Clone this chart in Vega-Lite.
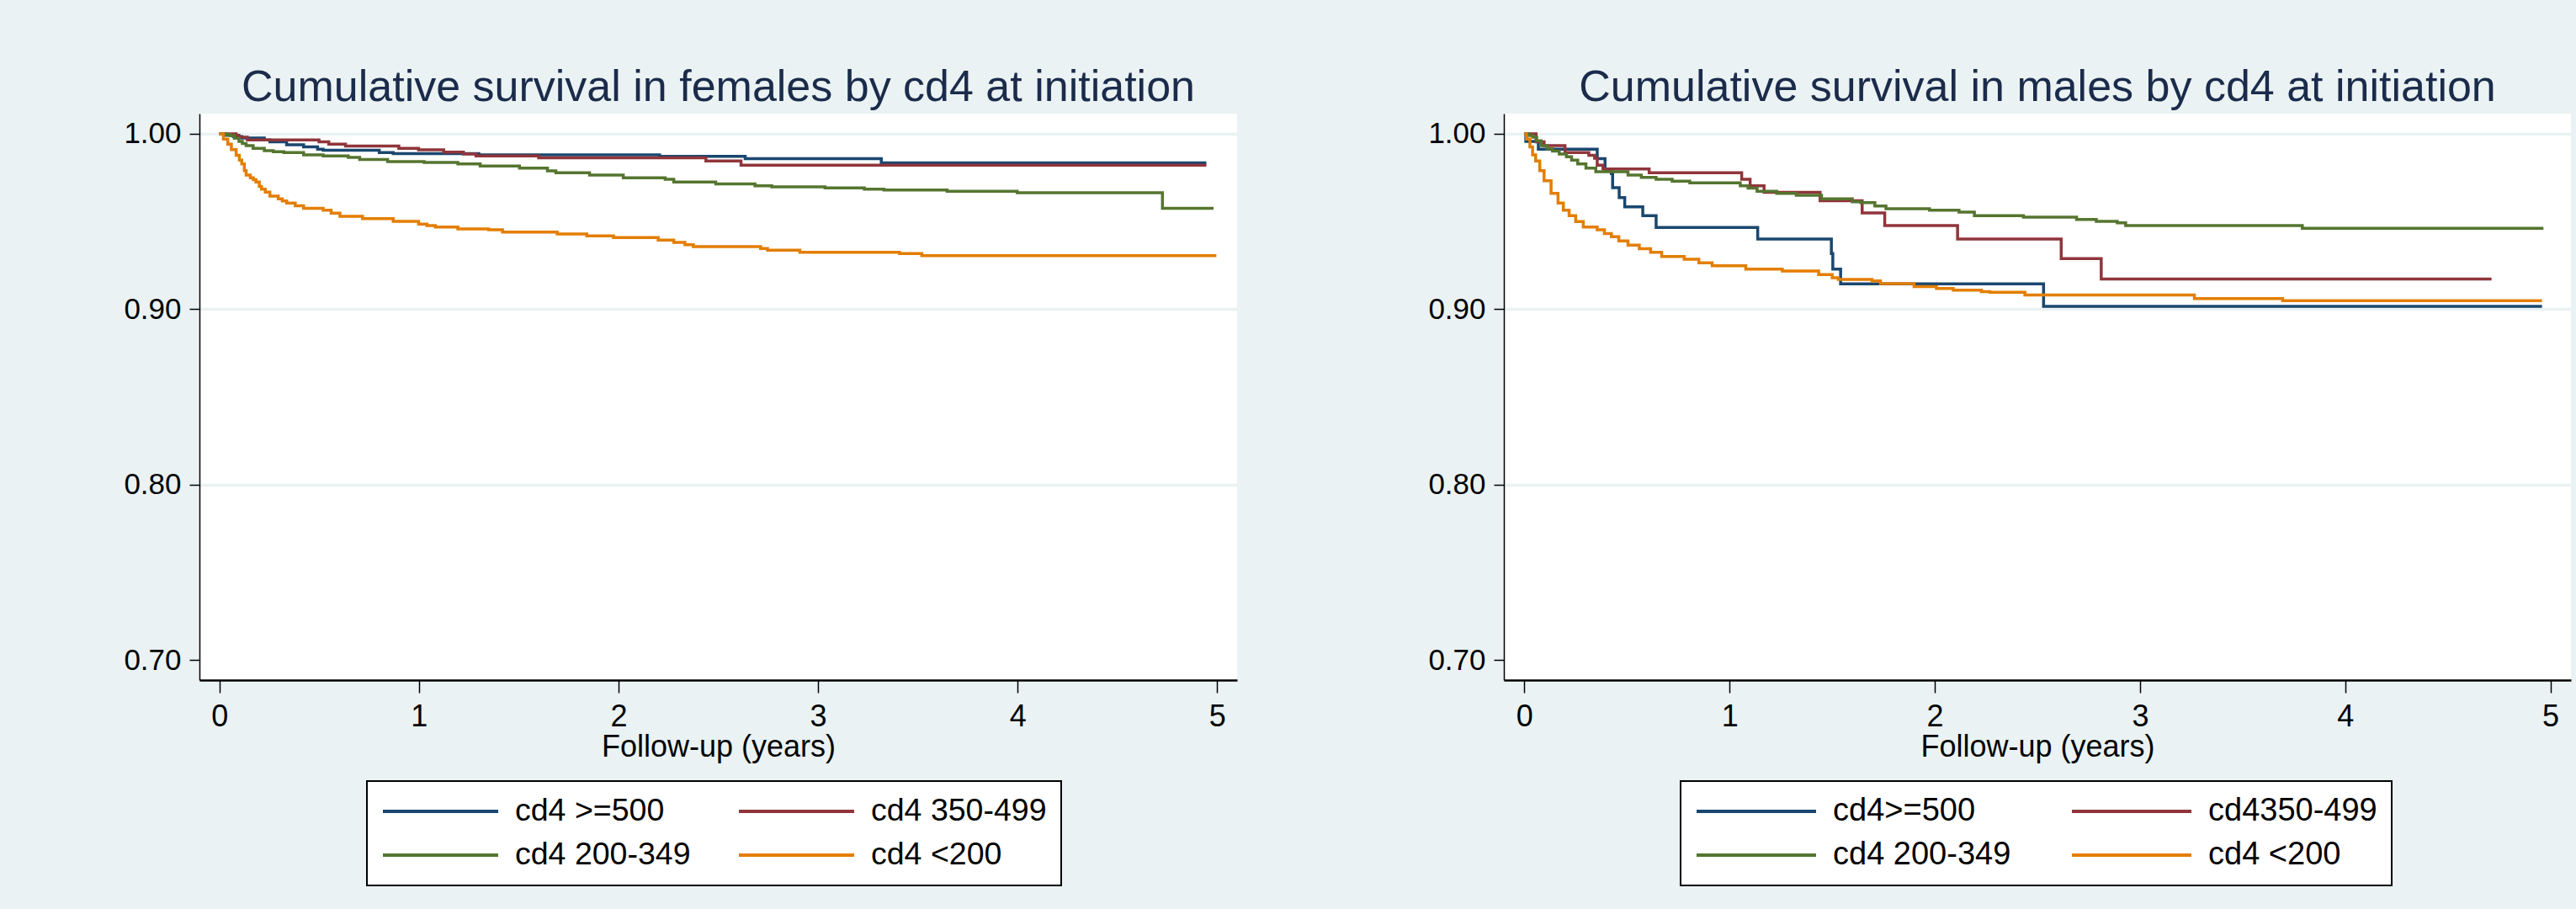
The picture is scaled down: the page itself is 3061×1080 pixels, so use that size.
{
  "$schema": "https://vega.github.io/schema/vega-lite/v6.json",
  "background": "#EAF2F3",
  "padding": {"left": 146, "top": 78, "right": 10, "bottom": 29},
  "spacing": 226,
  "resolve": {"scale": {"color": "independent"}},
  "config": {
    "font": "Liberation Sans",
    "view": {"fill": "white", "stroke": null},
    "title": {"fontSize": 52, "fontWeight": "normal", "color": "#1B2B4B", "anchor": "middle", "baseline": "alphabetic", "offset": 4, "font": "Liberation Sans"},
    "axis": {"labelFont": "Liberation Sans", "titleFont": "Liberation Sans", "labelColor": "black", "titleColor": "black", "tickColor": "black", "domainColor": "black", "titleFontWeight": "normal"},
    "legend": {"strokeWidth": 2, "labelFont": "Liberation Sans"}
  },
  "datasets": {
    "female": [
      {"g": "cd4 >=500", "t": 0, "s": 1},
      {"g": "cd4 >=500", "t": 0.03, "s": 0.9992},
      {"g": "cd4 >=500", "t": 0.07, "s": 0.9984},
      {"g": "cd4 >=500", "t": 0.112, "s": 0.9976},
      {"g": "cd4 >=500", "t": 0.225, "s": 0.9965},
      {"g": "cd4 >=500", "t": 0.253, "s": 0.9954},
      {"g": "cd4 >=500", "t": 0.337, "s": 0.9938},
      {"g": "cd4 >=500", "t": 0.422, "s": 0.9925},
      {"g": "cd4 >=500", "t": 0.492, "s": 0.9912},
      {"g": "cd4 >=500", "t": 0.52, "s": 0.9906},
      {"g": "cd4 >=500", "t": 0.801, "s": 0.9893},
      {"g": "cd4 >=500", "t": 0.871, "s": 0.9887},
      {"g": "cd4 >=500", "t": 1.3, "s": 0.988},
      {"g": "cd4 >=500", "t": 2.206, "s": 0.9872},
      {"g": "cd4 >=500", "t": 2.635, "s": 0.9858},
      {"g": "cd4 >=500", "t": 3.317, "s": 0.9834},
      {"g": "cd4 >=500", "t": 4.946, "s": 0.9834},
      {"g": "cd4 350-499", "t": 0, "s": 1},
      {"g": "cd4 350-499", "t": 0.084, "s": 0.9992},
      {"g": "cd4 350-499", "t": 0.098, "s": 0.9981},
      {"g": "cd4 350-499", "t": 0.14, "s": 0.9965},
      {"g": "cd4 350-499", "t": 0.499, "s": 0.9954},
      {"g": "cd4 350-499", "t": 0.548, "s": 0.9941},
      {"g": "cd4 350-499", "t": 0.632, "s": 0.993},
      {"g": "cd4 350-499", "t": 0.899, "s": 0.9917},
      {"g": "cd4 350-499", "t": 0.998, "s": 0.9909},
      {"g": "cd4 350-499", "t": 1.124, "s": 0.9896},
      {"g": "cd4 350-499", "t": 1.223, "s": 0.9885},
      {"g": "cd4 350-499", "t": 1.286, "s": 0.9874},
      {"g": "cd4 350-499", "t": 1.6, "s": 0.9863},
      {"g": "cd4 350-499", "t": 2.438, "s": 0.9845},
      {"g": "cd4 350-499", "t": 2.614, "s": 0.9821},
      {"g": "cd4 350-499", "t": 4.946, "s": 0.9821},
      {"g": "cd4 200-349", "t": 0, "s": 1},
      {"g": "cd4 200-349", "t": 0.03, "s": 0.9995},
      {"g": "cd4 200-349", "t": 0.056, "s": 0.9989},
      {"g": "cd4 200-349", "t": 0.075, "s": 0.9975},
      {"g": "cd4 200-349", "t": 0.098, "s": 0.9957},
      {"g": "cd4 200-349", "t": 0.115, "s": 0.9945},
      {"g": "cd4 200-349", "t": 0.134, "s": 0.9933},
      {"g": "cd4 200-349", "t": 0.169, "s": 0.9917},
      {"g": "cd4 200-349", "t": 0.225, "s": 0.9904},
      {"g": "cd4 200-349", "t": 0.27, "s": 0.9898},
      {"g": "cd4 200-349", "t": 0.323, "s": 0.9893},
      {"g": "cd4 200-349", "t": 0.422, "s": 0.988},
      {"g": "cd4 200-349", "t": 0.52, "s": 0.9874},
      {"g": "cd4 200-349", "t": 0.646, "s": 0.9866},
      {"g": "cd4 200-349", "t": 0.703, "s": 0.9853},
      {"g": "cd4 200-349", "t": 0.843, "s": 0.9842},
      {"g": "cd4 200-349", "t": 1.026, "s": 0.9837},
      {"g": "cd4 200-349", "t": 1.195, "s": 0.9829},
      {"g": "cd4 200-349", "t": 1.307, "s": 0.9816},
      {"g": "cd4 200-349", "t": 1.504, "s": 0.9805},
      {"g": "cd4 200-349", "t": 1.644, "s": 0.9789},
      {"g": "cd4 200-349", "t": 1.686, "s": 0.9778},
      {"g": "cd4 200-349", "t": 1.855, "s": 0.9765},
      {"g": "cd4 200-349", "t": 2.024, "s": 0.9749},
      {"g": "cd4 200-349", "t": 2.234, "s": 0.9741},
      {"g": "cd4 200-349", "t": 2.277, "s": 0.9725},
      {"g": "cd4 200-349", "t": 2.487, "s": 0.9714},
      {"g": "cd4 200-349", "t": 2.684, "s": 0.9704},
      {"g": "cd4 200-349", "t": 2.768, "s": 0.9698},
      {"g": "cd4 200-349", "t": 3.035, "s": 0.9692},
      {"g": "cd4 200-349", "t": 3.232, "s": 0.9685},
      {"g": "cd4 200-349", "t": 3.33, "s": 0.968},
      {"g": "cd4 200-349", "t": 3.647, "s": 0.9672},
      {"g": "cd4 200-349", "t": 3.998, "s": 0.9664},
      {"g": "cd4 200-349", "t": 4.726, "s": 0.9576},
      {"g": "cd4 200-349", "t": 4.982, "s": 0.9576},
      {"g": "cd4 <200", "t": 0, "s": 1},
      {"g": "cd4 <200", "t": 0.02, "s": 0.997},
      {"g": "cd4 <200", "t": 0.042, "s": 0.9941},
      {"g": "cd4 <200", "t": 0.06, "s": 0.991},
      {"g": "cd4 <200", "t": 0.084, "s": 0.9877},
      {"g": "cd4 <200", "t": 0.1, "s": 0.985},
      {"g": "cd4 <200", "t": 0.112, "s": 0.9829},
      {"g": "cd4 <200", "t": 0.125, "s": 0.979},
      {"g": "cd4 <200", "t": 0.134, "s": 0.9765},
      {"g": "cd4 <200", "t": 0.155, "s": 0.9749},
      {"g": "cd4 <200", "t": 0.17, "s": 0.9738},
      {"g": "cd4 <200", "t": 0.183, "s": 0.9725},
      {"g": "cd4 <200", "t": 0.2, "s": 0.97},
      {"g": "cd4 <200", "t": 0.211, "s": 0.9685},
      {"g": "cd4 <200", "t": 0.23, "s": 0.9668},
      {"g": "cd4 <200", "t": 0.253, "s": 0.9645},
      {"g": "cd4 <200", "t": 0.295, "s": 0.9629},
      {"g": "cd4 <200", "t": 0.315, "s": 0.9617},
      {"g": "cd4 <200", "t": 0.337, "s": 0.9605},
      {"g": "cd4 <200", "t": 0.38, "s": 0.959},
      {"g": "cd4 <200", "t": 0.422, "s": 0.9576},
      {"g": "cd4 <200", "t": 0.52, "s": 0.9565},
      {"g": "cd4 <200", "t": 0.56, "s": 0.9548},
      {"g": "cd4 <200", "t": 0.604, "s": 0.953},
      {"g": "cd4 <200", "t": 0.717, "s": 0.9517},
      {"g": "cd4 <200", "t": 0.871, "s": 0.9501},
      {"g": "cd4 <200", "t": 0.998, "s": 0.9485},
      {"g": "cd4 <200", "t": 1.04, "s": 0.9477},
      {"g": "cd4 <200", "t": 1.082, "s": 0.9469},
      {"g": "cd4 <200", "t": 1.195, "s": 0.9458},
      {"g": "cd4 <200", "t": 1.349, "s": 0.9453},
      {"g": "cd4 <200", "t": 1.419, "s": 0.944},
      {"g": "cd4 <200", "t": 1.693, "s": 0.9429},
      {"g": "cd4 <200", "t": 1.841, "s": 0.9418},
      {"g": "cd4 <200", "t": 1.975, "s": 0.9409},
      {"g": "cd4 <200", "t": 2.199, "s": 0.9394},
      {"g": "cd4 <200", "t": 2.277, "s": 0.9381},
      {"g": "cd4 <200", "t": 2.333, "s": 0.9368},
      {"g": "cd4 <200", "t": 2.375, "s": 0.9357},
      {"g": "cd4 <200", "t": 2.712, "s": 0.9346},
      {"g": "cd4 <200", "t": 2.747, "s": 0.9337},
      {"g": "cd4 <200", "t": 2.909, "s": 0.9325},
      {"g": "cd4 <200", "t": 3.408, "s": 0.9317},
      {"g": "cd4 <200", "t": 3.52, "s": 0.9306},
      {"g": "cd4 <200", "t": 4.996, "s": 0.9306}
    ],
    "male": [
      {"g": "cd4>=500", "t": 0, "s": 1},
      {"g": "cd4>=500", "t": 0.007, "s": 0.9957},
      {"g": "cd4>=500", "t": 0.068, "s": 0.9912},
      {"g": "cd4>=500", "t": 0.355, "s": 0.9858},
      {"g": "cd4>=500", "t": 0.393, "s": 0.9797},
      {"g": "cd4>=500", "t": 0.424, "s": 0.9773},
      {"g": "cd4>=500", "t": 0.43, "s": 0.9693},
      {"g": "cd4>=500", "t": 0.462, "s": 0.9637},
      {"g": "cd4>=500", "t": 0.489, "s": 0.9584},
      {"g": "cd4>=500", "t": 0.577, "s": 0.9533},
      {"g": "cd4>=500", "t": 0.642, "s": 0.9466},
      {"g": "cd4>=500", "t": 1.137, "s": 0.94},
      {"g": "cd4>=500", "t": 1.496, "s": 0.9317},
      {"g": "cd4>=500", "t": 1.503, "s": 0.9229},
      {"g": "cd4>=500", "t": 1.541, "s": 0.9145},
      {"g": "cd4>=500", "t": 2.53, "s": 0.9017},
      {"g": "cd4>=500", "t": 4.959, "s": 0.9017},
      {"g": "cd4350-499", "t": 0, "s": 1},
      {"g": "cd4350-499", "t": 0.057, "s": 0.9954},
      {"g": "cd4350-499", "t": 0.096, "s": 0.9933},
      {"g": "cd4350-499", "t": 0.198, "s": 0.9893},
      {"g": "cd4350-499", "t": 0.314, "s": 0.9877},
      {"g": "cd4350-499", "t": 0.342, "s": 0.9861},
      {"g": "cd4350-499", "t": 0.355, "s": 0.9821},
      {"g": "cd4350-499", "t": 0.383, "s": 0.98},
      {"g": "cd4350-499", "t": 0.608, "s": 0.9778},
      {"g": "cd4350-499", "t": 1.059, "s": 0.9741},
      {"g": "cd4350-499", "t": 1.1, "s": 0.9704},
      {"g": "cd4350-499", "t": 1.168, "s": 0.9666},
      {"g": "cd4350-499", "t": 1.441, "s": 0.9618},
      {"g": "cd4350-499", "t": 1.646, "s": 0.9549},
      {"g": "cd4350-499", "t": 1.756, "s": 0.9477},
      {"g": "cd4350-499", "t": 2.111, "s": 0.94},
      {"g": "cd4350-499", "t": 2.616, "s": 0.9289},
      {"g": "cd4350-499", "t": 2.811, "s": 0.9173},
      {"g": "cd4350-499", "t": 4.713, "s": 0.9173},
      {"g": "cd4 200-349", "t": 0, "s": 1},
      {"g": "cd4 200-349", "t": 0.02, "s": 0.999},
      {"g": "cd4 200-349", "t": 0.041, "s": 0.9981},
      {"g": "cd4 200-349", "t": 0.06, "s": 0.996},
      {"g": "cd4 200-349", "t": 0.082, "s": 0.9933},
      {"g": "cd4 200-349", "t": 0.11, "s": 0.9915},
      {"g": "cd4 200-349", "t": 0.137, "s": 0.9901},
      {"g": "cd4 200-349", "t": 0.17, "s": 0.9885},
      {"g": "cd4 200-349", "t": 0.205, "s": 0.9869},
      {"g": "cd4 200-349", "t": 0.23, "s": 0.985},
      {"g": "cd4 200-349", "t": 0.26, "s": 0.9829},
      {"g": "cd4 200-349", "t": 0.3, "s": 0.9805},
      {"g": "cd4 200-349", "t": 0.348, "s": 0.9784},
      {"g": "cd4 200-349", "t": 0.505, "s": 0.9765},
      {"g": "cd4 200-349", "t": 0.57, "s": 0.9752},
      {"g": "cd4 200-349", "t": 0.642, "s": 0.9741},
      {"g": "cd4 200-349", "t": 0.72, "s": 0.973},
      {"g": "cd4 200-349", "t": 0.806, "s": 0.972},
      {"g": "cd4 200-349", "t": 1.052, "s": 0.9704},
      {"g": "cd4 200-349", "t": 1.09, "s": 0.969},
      {"g": "cd4 200-349", "t": 1.134, "s": 0.9672},
      {"g": "cd4 200-349", "t": 1.23, "s": 0.966},
      {"g": "cd4 200-349", "t": 1.325, "s": 0.965},
      {"g": "cd4 200-349", "t": 1.448, "s": 0.9629},
      {"g": "cd4 200-349", "t": 1.598, "s": 0.9613},
      {"g": "cd4 200-349", "t": 1.639, "s": 0.9608},
      {"g": "cd4 200-349", "t": 1.708, "s": 0.9589},
      {"g": "cd4 200-349", "t": 1.762, "s": 0.9573},
      {"g": "cd4 200-349", "t": 1.974, "s": 0.9565},
      {"g": "cd4 200-349", "t": 2.118, "s": 0.9554},
      {"g": "cd4 200-349", "t": 2.193, "s": 0.9533},
      {"g": "cd4 200-349", "t": 2.432, "s": 0.9525},
      {"g": "cd4 200-349", "t": 2.691, "s": 0.9512},
      {"g": "cd4 200-349", "t": 2.787, "s": 0.9501},
      {"g": "cd4 200-349", "t": 2.889, "s": 0.9493},
      {"g": "cd4 200-349", "t": 2.93, "s": 0.9477},
      {"g": "cd4 200-349", "t": 3.791, "s": 0.9461},
      {"g": "cd4 200-349", "t": 4.966, "s": 0.9461},
      {"g": "cd4 <200", "t": 0, "s": 1},
      {"g": "cd4 <200", "t": 0.01, "s": 0.997},
      {"g": "cd4 <200", "t": 0.027, "s": 0.9925},
      {"g": "cd4 <200", "t": 0.04, "s": 0.988},
      {"g": "cd4 <200", "t": 0.055, "s": 0.9845},
      {"g": "cd4 <200", "t": 0.075, "s": 0.979},
      {"g": "cd4 <200", "t": 0.096, "s": 0.9733},
      {"g": "cd4 <200", "t": 0.13, "s": 0.966},
      {"g": "cd4 <200", "t": 0.164, "s": 0.9605},
      {"g": "cd4 <200", "t": 0.19, "s": 0.9565},
      {"g": "cd4 <200", "t": 0.218, "s": 0.9533},
      {"g": "cd4 <200", "t": 0.25, "s": 0.95},
      {"g": "cd4 <200", "t": 0.287, "s": 0.9469},
      {"g": "cd4 <200", "t": 0.355, "s": 0.9453},
      {"g": "cd4 <200", "t": 0.39, "s": 0.9432},
      {"g": "cd4 <200", "t": 0.424, "s": 0.9413},
      {"g": "cd4 <200", "t": 0.46, "s": 0.939},
      {"g": "cd4 <200", "t": 0.505, "s": 0.9365},
      {"g": "cd4 <200", "t": 0.56, "s": 0.9345},
      {"g": "cd4 <200", "t": 0.615, "s": 0.9325},
      {"g": "cd4 <200", "t": 0.669, "s": 0.9301},
      {"g": "cd4 <200", "t": 0.779, "s": 0.9285},
      {"g": "cd4 <200", "t": 0.85, "s": 0.9265},
      {"g": "cd4 <200", "t": 0.915, "s": 0.9248},
      {"g": "cd4 <200", "t": 1.079, "s": 0.9229},
      {"g": "cd4 <200", "t": 1.257, "s": 0.9218},
      {"g": "cd4 <200", "t": 1.434, "s": 0.9198},
      {"g": "cd4 <200", "t": 1.5, "s": 0.918},
      {"g": "cd4 <200", "t": 1.53, "s": 0.917},
      {"g": "cd4 <200", "t": 1.694, "s": 0.9162},
      {"g": "cd4 <200", "t": 1.735, "s": 0.9146},
      {"g": "cd4 <200", "t": 1.899, "s": 0.9129},
      {"g": "cd4 <200", "t": 2.008, "s": 0.9118},
      {"g": "cd4 <200", "t": 2.09, "s": 0.9109},
      {"g": "cd4 <200", "t": 2.227, "s": 0.9101},
      {"g": "cd4 <200", "t": 2.268, "s": 0.9097},
      {"g": "cd4 <200", "t": 2.439, "s": 0.9081},
      {"g": "cd4 <200", "t": 3.265, "s": 0.9061},
      {"g": "cd4 <200", "t": 3.695, "s": 0.9049},
      {"g": "cd4 <200", "t": 4.959, "s": 0.9049}
    ]
  },
  "hconcat": [
    {
      "title": {"text": "Cumulative survival in females by cd4 at initiation"},
      "width": 1233,
      "height": 673,
      "data": {"name": "female"},
      "mark": {"type": "line", "interpolate": "step-after", "strokeWidth": 3.5},
      "encoding": {
        "x": {"field": "t", "type": "quantitative", "scale": {"domain": [-0.1, 5.1], "nice": false, "zero": false},
          "axis": {"values": [0, 1, 2, 3, 4, 5], "title": "Follow-up (years)", "grid": false, "tickSize": 15, "tickWidth": 1.5, "domainWidth": 2.5, "labelFontSize": 36, "labelPadding": 11, "titleFontSize": 36, "titlePadding": 1, "labelFlush": false}},
        "y": {"field": "s", "type": "quantitative", "scale": {"domain": [0.6887, 1.0115], "nice": false, "zero": false},
          "axis": {"values": [0.7, 0.8, 0.9, 1.0], "format": ".2f", "title": null, "grid": true, "gridColor": "#EAF2F3", "gridWidth": 3.5, "gridOpacity": {"condition": {"test": "datum.value < 0.75", "value": 0}, "value": 1}, "tickSize": 12, "tickWidth": 1.5, "domainWidth": 1.5, "labelFontSize": 35, "labelPadding": 10, "labelFlush": false}},
        "color": {"field": "g", "type": "nominal",
          "scale": {"domain": ["cd4 >=500", "cd4 350-499", "cd4 200-349", "cd4 <200"], "range": ["#1A476F", "#90353B", "#55752F", "#E37E00"]},
          "legend": {"orient": "none", "legendX": 199, "legendY": 793, "direction": "horizontal", "columns": 2, "title": null, "symbolType": "stroke", "symbolSize": 18769, "symbolStrokeWidth": 4, "clipHeight": 38, "labelFontSize": 37.5, "labelColor": "black", "labelOffset": 18, "columnPadding": 55, "rowPadding": 14, "padding": 17, "strokeColor": "black", "fillColor": "white", "labelLimit": 500}}
      }
    },
    {
      "title": {"text": "Cumulative survival in males by cd4 at initiation"},
      "width": 1268,
      "height": 673,
      "data": {"name": "male"},
      "mark": {"type": "line", "interpolate": "step-after", "strokeWidth": 3.5},
      "encoding": {
        "x": {"field": "t", "type": "quantitative", "scale": {"domain": [-0.1, 5.1], "nice": false, "zero": false},
          "axis": {"values": [0, 1, 2, 3, 4, 5], "title": "Follow-up (years)", "grid": false, "tickSize": 15, "tickWidth": 1.5, "domainWidth": 2.5, "labelFontSize": 36, "labelPadding": 11, "titleFontSize": 36, "titlePadding": 1, "labelFlush": false}},
        "y": {"field": "s", "type": "quantitative", "scale": {"domain": [0.6887, 1.0115], "nice": false, "zero": false},
          "axis": {"values": [0.7, 0.8, 0.9, 1.0], "format": ".2f", "title": null, "grid": true, "gridColor": "#EAF2F3", "gridWidth": 3.5, "gridOpacity": {"condition": {"test": "datum.value < 0.75", "value": 0}, "value": 1}, "tickSize": 12, "tickWidth": 1.5, "domainWidth": 1.5, "labelFontSize": 35, "labelPadding": 10, "labelFlush": false}},
        "color": {"field": "g", "type": "nominal",
          "scale": {"domain": ["cd4>=500", "cd4350-499", "cd4 200-349", "cd4 <200"], "range": ["#1A476F", "#90353B", "#55752F", "#E37E00"]},
          "legend": {"orient": "none", "legendX": 210, "legendY": 793, "direction": "horizontal", "columns": 2, "title": null, "symbolType": "stroke", "symbolSize": 20164, "symbolStrokeWidth": 4, "clipHeight": 38, "labelFontSize": 38, "labelColor": "black", "labelOffset": 18, "columnPadding": 70, "rowPadding": 14, "padding": 17, "strokeColor": "black", "fillColor": "white", "labelLimit": 500}}
      }
    }
  ]
}
